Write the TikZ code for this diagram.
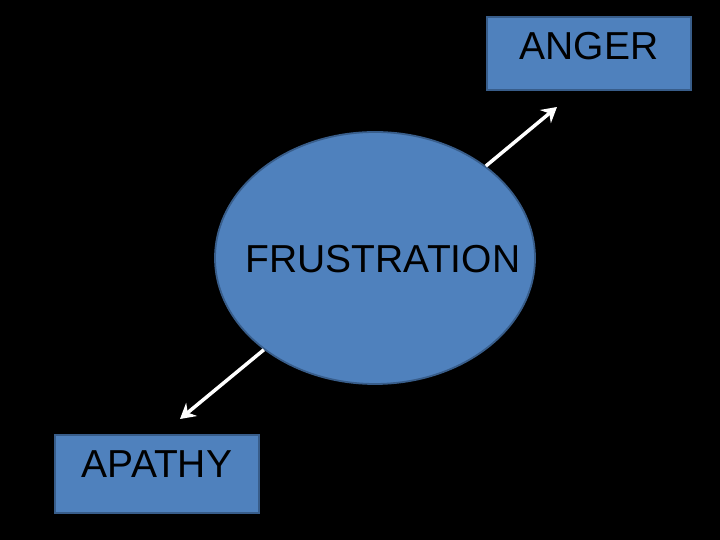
\documentclass[tikz,border=0pt]{standalone}
\usepackage{fontspec}
\setmainfont{Liberation Sans}
\usetikzlibrary{arrows.meta,shapes.geometric}
\definecolor{fillblue}{HTML}{4F81BD}
\definecolor{edgeblue}{HTML}{385D8A}

\begin{document}
\begin{tikzpicture}[x=1pt,y=1pt,
    bigfont/.style={font=\fontsize{39pt}{47pt}\selectfont},
    blob/.style={draw=edgeblue,fill=fillblue,line width=1.8pt,inner sep=0pt},
    wordbox/.style={blob,bigfont,minimum width=204pt,text height=43pt},
    whitearrow/.style={draw=white,line width=3.5pt,-{Stealth[length=15pt,width=17pt,inset=5pt]}}]
                    \fill[black] (0,0) rectangle (720,540);
                    \node[blob,ellipse,minimum width=320pt,minimum height=252pt,
                        label={[bigfont,xshift=8pt,yshift=-1pt]center:FRUSTRATION}] (frust) at (375,282) {};
                    \node[wordbox,text depth=30pt] (anger) at (589,486.5) {ANGER};
                    \node[wordbox,text depth=35pt] (apathy) at (157,66) {APATHY};
                    \coordinate (angertip) at (557,433);
                    \coordinate (apathytip) at (180,121);
                    \draw[whitearrow] (frust) -- (angertip);
                    \draw[whitearrow] (frust) -- (apathytip);
                \end{tikzpicture}
\end{document}
